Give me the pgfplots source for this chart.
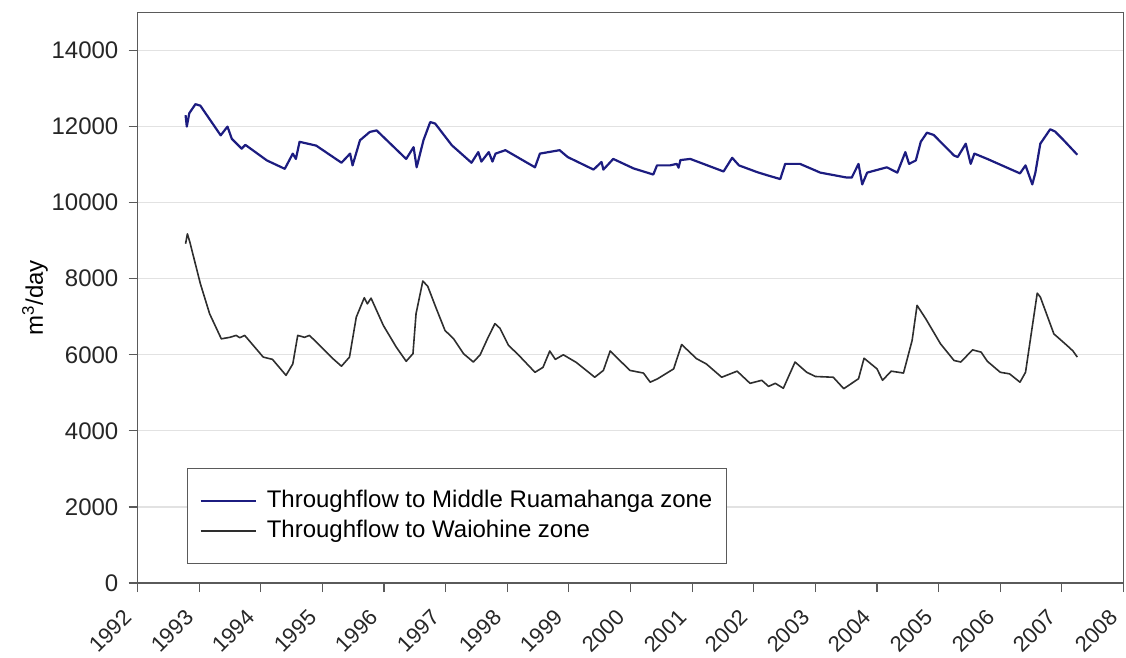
\documentclass[border=0pt]{standalone}
\usepackage{pgfplots}
\pgfplotsset{compat=1.18}
\usepackage{pgfplotstable}
\usepackage{fontspec}
\setmainfont{Liberation Sans}
\definecolor{navyline}{HTML}{1C1C80}
\definecolor{darkline}{HTML}{2E2E2E}
\definecolor{axisgray}{HTML}{5A5A5A}
\definecolor{gridgray}{HTML}{E2E2E2}

\pgfplotstableread{
x y
1992.78 12300
1992.80 12000
1992.84 12350
1992.94 12590
1993.02 12550
1993.35 11770
1993.46 12000
1993.53 11680
1993.69 11420
1993.75 11520
1994.10 11110
1994.39 10890
1994.52 11290
1994.57 11150
1994.63 11600
1994.90 11500
1995.31 11050
1995.45 11290
1995.49 10980
1995.61 11640
1995.77 11860
1995.88 11900
1996.36 11150
1996.48 11460
1996.53 10930
1996.64 11640
1996.75 12120
1996.83 12080
1997.10 11510
1997.42 11050
1997.53 11330
1997.58 11080
1997.70 11330
1997.76 11080
1997.81 11290
1997.97 11380
1998.45 10930
1998.53 11290
1998.85 11380
1998.98 11200
1999.40 10870
1999.53 11070
1999.56 10870
1999.72 11150
2000.05 10900
2000.37 10740
2000.43 10980
2000.64 10980
2000.75 11020
2000.78 10920
2000.81 11120
2000.97 11150
2001.51 10820
2001.65 11180
2001.76 10980
2002.06 10800
2002.22 10720
2002.43 10620
2002.51 11020
2002.75 11020
2003.08 10790
2003.51 10660
2003.59 10660
2003.70 11020
2003.76 10480
2003.84 10790
2004.16 10930
2004.33 10790
2004.46 11330
2004.52 11020
2004.63 11110
2004.71 11600
2004.81 11840
2004.92 11780
2005.25 11240
2005.31 11200
2005.44 11550
2005.52 11020
2005.58 11290
2005.79 11150
2006.32 10770
2006.41 10980
2006.52 10480
2006.57 10790
2006.65 11550
2006.81 11930
2006.89 11870
2007.03 11640
2007.25 11260
}\middle

\pgfplotstableread{
x y
1992.78 8920
1992.81 9180
1992.85 8960
1993.02 7870
1993.17 7080
1993.36 6420
1993.50 6460
1993.60 6510
1993.66 6450
1993.74 6510
1994.04 5940
1994.19 5880
1994.41 5460
1994.52 5760
1994.60 6510
1994.71 6460
1994.79 6510
1994.93 6290
1995.17 5900
1995.31 5700
1995.44 5940
1995.55 6990
1995.68 7500
1995.73 7340
1995.79 7490
1995.99 6770
1996.20 6200
1996.36 5830
1996.47 6030
1996.52 7080
1996.63 7940
1996.71 7800
1996.85 7210
1996.99 6640
1997.13 6420
1997.29 6030
1997.45 5810
1997.56 6000
1997.69 6460
1997.80 6820
1997.88 6700
1998.02 6250
1998.18 6000
1998.45 5540
1998.58 5670
1998.69 6100
1998.78 5880
1998.91 6000
1999.12 5800
1999.42 5410
1999.56 5590
1999.67 6100
1999.99 5590
2000.21 5520
2000.32 5280
2000.44 5370
2000.70 5630
2000.83 6270
2001.07 5900
2001.23 5760
2001.48 5410
2001.73 5570
2001.94 5250
2002.13 5330
2002.24 5170
2002.35 5250
2002.48 5120
2002.67 5810
2002.86 5540
2003.00 5430
2003.29 5410
2003.46 5110
2003.70 5370
2003.79 5910
2004.00 5630
2004.09 5330
2004.23 5570
2004.43 5520
2004.57 6380
2004.65 7300
2004.79 6950
2005.03 6290
2005.25 5850
2005.36 5810
2005.55 6130
2005.69 6070
2005.79 5830
2006.00 5540
2006.15 5500
2006.32 5280
2006.41 5540
2006.60 7620
2006.65 7520
2006.87 6550
2007.08 6250
2007.18 6100
2007.25 5940
}\waiohine

\begin{document}
\fontsize{24}{28}\selectfont
\begin{tikzpicture}
\useasboundingbox (-137.5pt,-74pt) rectangle (988.5pt,583pt);
\begin{axis}[
  scale only axis,
  width=986pt, height=570.5pt,
  xmin=1992, xmax=2008,
  ymin=0, ymax=15000,
  xtick={1992,1993,...,2008},
  ytick={0,2000,...,14000},
  scaled ticks=false,
  /pgf/number format/1000 sep={},
  /pgf/number format/assume math mode=true,
  tick label style={font=\fontsize{24}{28}\selectfont, text=black!85},
  xticklabel style={xshift=-4pt, yshift=-16pt, rotate=45, anchor=east, font=\fontsize{22}{26}\selectfont},
  yticklabel style={xshift=-2pt},
  xtick pos=bottom, ytick pos=left,
  tick align=outside,
  major tick length=9pt,
  tick style={draw=axisgray, line width=1.2pt},
  axis line style={draw=axisgray, line width=1.4pt},
  ymajorgrids,
  grid style={draw=gridgray, line width=1.2pt},
  ylabel={m\textsuperscript{3}/day},
  ylabel style={at={(axis description cs:-0.104,0.5)}, anchor=center, font=\fontsize{24}{28}\selectfont},
  legend cell align=left,
  legend style={
    at={(axis description cs:0.0502,0.2016)}, anchor=north west,
    draw=axisgray, line width=1.2pt, fill=white,
    font=\fontsize{24}{28}\selectfont,
    inner xsep=12pt, inner ysep=20pt,
    row sep=5pt, column sep=8pt,
  },
  legend image code/.code={\draw[#1] (0pt,0pt) -- (55pt,0pt);},
]
\addplot[draw=navyline, line width=2.2pt, line join=round] table[x=x,y=y] {\middle};
\addlegendentry{Throughflow to Middle Ruamahanga zone}
\addplot[draw=darkline, line width=1.6pt, line join=round] table[x=x,y=y] {\waiohine};
\addlegendentry{Throughflow to Waiohine zone}
\end{axis}
\end{tikzpicture}
\end{document}
